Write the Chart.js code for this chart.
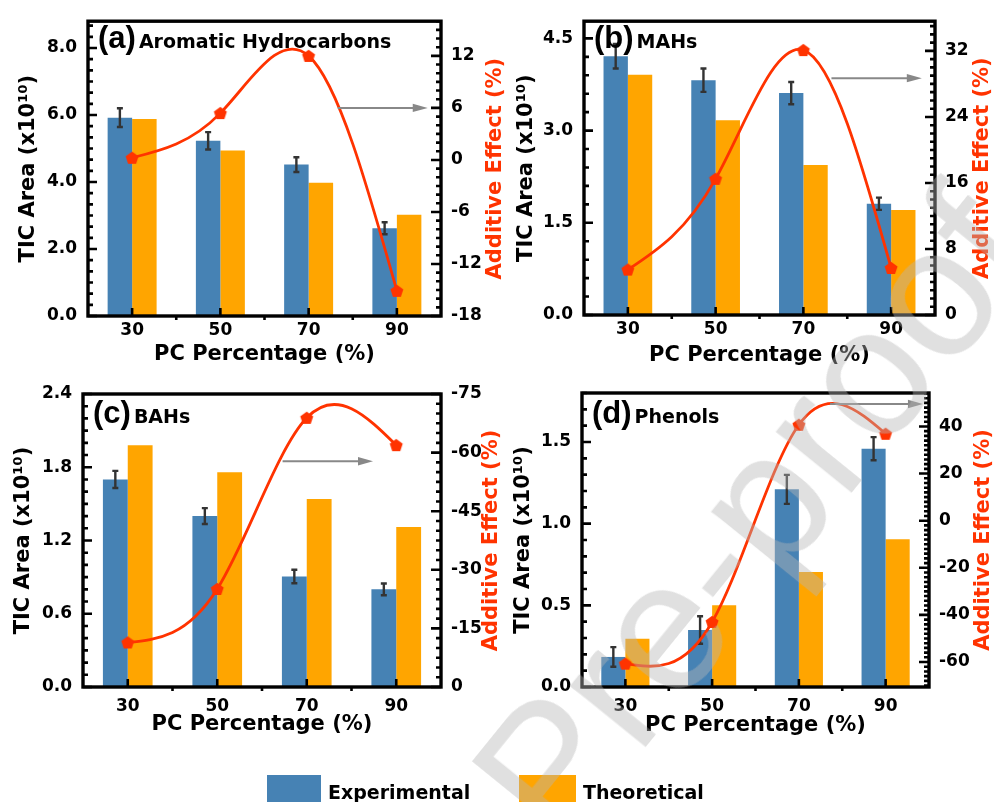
<!DOCTYPE html>
<html><head><meta charset="utf-8">
<script src="https://cdn.jsdelivr.net/npm/chart.js@4.4.1/dist/chart.umd.min.js"></script>
<style>
html,body{margin:0;padding:0;background:#fff;}
body{width:994px;height:802px;position:relative;overflow:hidden;}
.pc{position:absolute;}
.pc canvas{display:block;}
.leg{position:absolute;font:bold 19px 'DejaVu Sans';line-height:19px;color:#000;white-space:nowrap;}
.box{position:absolute;}
#wm{position:absolute;left:752px;top:514px;transform:translate(-50%,-50%) rotate(-51deg);font:184px 'Liberation Sans';line-height:1;color:rgba(180,180,180,0.42);white-space:nowrap;pointer-events:none;}
</style></head><body>
<div class="pc" style="left:0;top:0"><canvas id="ca"></canvas></div>
<div class="pc" style="left:490px;top:0"><canvas id="cb"></canvas></div>
<div class="pc" style="left:0;top:370px"><canvas id="cc"></canvas></div>
<div class="pc" style="left:490px;top:370px"><canvas id="cd"></canvas></div>
<div class="box" style="left:267px;top:775px;width:54px;height:40px;background:#4682B4"></div>
<div class="leg" style="left:328px;top:783px">Experimental</div>
<div class="box" style="left:519px;top:775px;width:57px;height:40px;background:#FFA500"></div>
<div class="leg" style="left:583px;top:783px">Theoretical</div>
<div id="wm">Pre-proof</div>
<script>
// ---------- data ----------
const categories = ['30', '50', '70', '90'];

const aExperimental = [5.92, 5.23, 4.52, 2.62];
const aTheoretical  = [5.88, 4.94, 3.98, 3.02];
const aError        = [0.28, 0.26, 0.22, 0.18];
const aAdditive     = [0.25, 5.4, 12.0, -15.1];
const aLeftTicks    = ['0.0', '2.0', '4.0', '6.0', '8.0'];
const aRightTicks   = ['-18', '-12', '-6', '0', '6', '12'];

const bExperimental = [4.21, 3.82, 3.61, 1.81];
const bTheoretical  = [3.91, 3.17, 2.44, 1.71];
const bError        = [0.20, 0.19, 0.18, 0.10];
const bAdditive     = [5.5, 16.5, 32.1, 5.7];
const bLeftTicks    = ['0.0', '1.5', '3.0', '4.5'];
const bRightTicks   = ['0', '8', '16', '24', '32'];

const cExperimental = [1.70, 1.40, 0.905, 0.80];
const cTheoretical  = [1.98, 1.76, 1.54, 1.31];
const cError        = [0.07, 0.065, 0.055, 0.048];
const cAdditive     = [-11.4, -25.1, -68.9, -61.9];
const cLeftTicks    = ['0.0', '0.6', '1.2', '1.8', '2.4'];
const cRightTicks   = ['-75', '-60', '-45', '-30', '-15', '0'];

const dExperimental = [0.184, 0.349, 1.21, 1.459];
const dTheoretical  = [0.296, 0.50, 0.704, 0.904];
const dError        = [0.06, 0.084, 0.089, 0.071];
const dAdditive     = [-60.7, -43.0, 40.7, 36.9];
const dLeftTicks    = ['0.0', '0.5', '1.0', '1.5'];
const dRightTicks   = ['-60', '-40', '-20', '0', '20', '40'];

// ---------- styles / layout ----------
const FONT = 'DejaVu Sans';
const BLUE = '#4682B4', ORANGE = '#FFA500', RED = '#FF3300', ERRC = '#333333', ARROWC = '#888888';

const panels = [
  {id:'ca', letter:'(a)', name:'Aromatic Hydrocarbons', exp:aExperimental, theo:aTheoretical, err:aError, eff:aAdditive, lt:aLeftTicks, rt:aRightTicks,
   W:510, H:380, L:88, R:441, T:15, B:316, lmin:0, lmax:8.8, lminor:2/6, rmin:-18, rmax:16, rminor:1, rrev:false,
   ltitleX:29, rtitleOff:55, tickPad:4, titleCenter:354.5, labelDy:27, arrow:{from:2.33, to:3.35, y:6}},
  {id:'cb', letter:'(b)', name:'MAHs', exp:bExperimental, theo:bTheoretical, err:bError, eff:bAdditive, lt:bLeftTicks, rt:bRightTicks,
   W:504, H:380, L:94, R:445, T:15, B:315, lmin:0, lmax:4.78, lminor:0.3, rmin:0, rmax:35.6, rminor:1, rrev:false,
   ltitleX:36.7, rtitleOff:48, tickPad:4, titleCenter:355.5, labelDy:27, arrow:{from:2.32, to:3.35, y:28.7}},
  {id:'cc', letter:'(c)', name:'BAHs', exp:cExperimental, theo:cTheoretical, err:cError, eff:cAdditive, lt:cLeftTicks, rt:cRightTicks,
   W:510, H:420, L:83, R:441, T:24, B:317, lmin:0, lmax:2.4, lminor:0.1, rmin:-75, rmax:0, rminor:2.5, rrev:true,
   ltitleX:24, rtitleOff:51, tickPad:9.5, titleCenter:354.5, labelDy:29, arrow:{from:1.73, to:2.74, y:-57.8}},
  {id:'cd', letter:'(d)', name:'Phenols', exp:dExperimental, theo:dTheoretical, err:dError, eff:dAdditive, lt:dLeftTicks, rt:dRightTicks,
   W:504, H:420, L:92, R:439, T:23, B:317, lmin:0, lmax:1.8, lminor:0.1, rmin:-70.6, rmax:54.2, rminor:2, rrev:false,
   ltitleX:34, rtitleOff:55, tickPad:9.8, titleCenter:355.8, labelDy:30, arrow:{from:2.36, to:3.43, y:49.5}}
];

function pentagon(r, color) {
  const c = document.createElement('canvas');
  const s = Math.ceil(2 * r + 2);
  c.width = c.height = s;
  const g = c.getContext('2d');
  g.fillStyle = color;
  g.beginPath();
  for (let k = 0; k < 5; k++) {
    const a = -Math.PI / 2 + k * 2 * Math.PI / 5;
    const x = s / 2 + r * Math.cos(a), y = s / 2 + 0.6 + r * Math.sin(a);
    k ? g.lineTo(x, y) : g.moveTo(x, y);
  }
  g.closePath();
  g.fill();
  return c;
}
const PENT = pentagon(6.8, RED);

// natural cubic spline through the points Chart.js placed (Origin-style spline)
function naturalSpline(meta) {
  const pts = meta.data, n = pts.length;
  if (n < 3) return;
  const xs = pts.map(q => q.x), ys = pts.map(q => q.y);
  const h = [];
  for (let i = 0; i < n - 1; i++) h.push(xs[i + 1] - xs[i]);
  const M = new Array(n).fill(0);
  const cp = [], dp = [];
  for (let i = 1; i < n - 1; i++) {
    const a = h[i - 1], b = 2 * (h[i - 1] + h[i]), c = h[i];
    const d = 6 * ((ys[i + 1] - ys[i]) / h[i] - (ys[i] - ys[i - 1]) / h[i - 1]);
    if (i === 1) { cp[i] = c / b; dp[i] = d / b; }
    else { const m = b - a * cp[i - 1]; cp[i] = c / m; dp[i] = (d - a * dp[i - 1]) / m; }
  }
  for (let i = n - 2; i >= 1; i--) M[i] = dp[i] - (i < n - 2 ? cp[i] * M[i + 1] : 0);
  const s = [];
  for (let i = 0; i < n - 1; i++) s[i] = (ys[i + 1] - ys[i]) / h[i] - h[i] * (2 * M[i] + M[i + 1]) / 6;
  s[n - 1] = (ys[n - 1] - ys[n - 2]) / h[n - 2] + h[n - 2] * (M[n - 2] + 2 * M[n - 1]) / 6;
  for (let i = 0; i < n; i++) {
    const p = pts[i];
    if (i > 0) { p.cp1x = xs[i] - h[i - 1] / 3; p.cp1y = ys[i] - s[i] * h[i - 1] / 3; }
    else { p.cp1x = xs[i]; p.cp1y = ys[i]; }
    if (i < n - 1) { p.cp2x = xs[i] + h[i] / 3; p.cp2y = ys[i] + s[i] * h[i] / 3; }
    else { p.cp2x = xs[i]; p.cp2y = ys[i]; }
  }
  meta.dataset._pointsUpdated = true;
  meta.dataset._path = undefined;
}

function makeDecor(p) {
  return {
    id: 'panelDecor',
    beforeDatasetDraw(chart, args) {
      if (args.index === 0) naturalSpline(chart.getDatasetMeta(0));
    },
    afterDatasetDraw(chart, args) {
      if (args.index !== 1) return;
      const ctx = chart.ctx, ys = chart.scales.y;
      const meta = chart.getDatasetMeta(1);
      ctx.save();
      ctx.strokeStyle = ERRC; ctx.lineWidth = 2.4; ctx.lineCap = 'butt';
      meta.data.forEach((bar, i) => {
        const v = p.exp[i], e = p.err[i];
        const y1 = ys.getPixelForValue(v + e), y2 = ys.getPixelForValue(v - e);
        const x = bar.x;
        ctx.beginPath();
        ctx.moveTo(x, y1); ctx.lineTo(x, y2);
        ctx.moveTo(x - 3, y1); ctx.lineTo(x + 3, y1);
        ctx.moveTo(x - 3, y2); ctx.lineTo(x + 3, y2);
        ctx.stroke();
      });
      ctx.restore();
    },
    afterDraw(chart) {
      const ctx = chart.ctx, a = chart.chartArea;
      const xs = chart.scales.x, yl = chart.scales.y, yr = chart.scales.y1;
      ctx.save();
      // arrow
      const ax1 = xs.getPixelForValue(p.arrow.from), ax2 = xs.getPixelForValue(p.arrow.to), ay = yr.getPixelForValue(p.arrow.y);
      ctx.strokeStyle = ARROWC; ctx.fillStyle = ARROWC; ctx.lineWidth = 2;
      ctx.beginPath(); ctx.moveTo(ax1, ay); ctx.lineTo(ax2 - 12, ay); ctx.stroke();
      ctx.beginPath(); ctx.moveTo(ax2, ay); ctx.lineTo(ax2 - 15, ay - 4.2); ctx.lineTo(ax2 - 15, ay + 4.2); ctx.closePath(); ctx.fill();
      // ticks
      ctx.strokeStyle = '#000'; ctx.lineWidth = 2.6; ctx.lineCap = 'butt';
      const majL = p.lt.map(Number), majR = p.rt.map(Number);
      const isMaj = (v, arr, st) => arr.some(m => Math.abs(m - v) < st / 10);
      ctx.beginPath();
      majL.forEach(v => { const y = yl.getPixelForValue(v); ctx.moveTo(a.left, y); ctx.lineTo(a.left + 9, y); });
      for (let k = Math.ceil(p.lmin / p.lminor - 1e-6); k * p.lminor <= p.lmax + 1e-6; k++) {
        const v = k * p.lminor; if (isMaj(v, majL, p.lminor)) continue;
        const y = yl.getPixelForValue(v); ctx.moveTo(a.left, y); ctx.lineTo(a.left + 5, y);
      }
      majR.forEach(v => { const y = yr.getPixelForValue(v); ctx.moveTo(a.right, y); ctx.lineTo(a.right - 10, y); });
      for (let k = Math.ceil(p.rmin / p.rminor - 1e-6); k * p.rminor <= p.rmax + 1e-6; k++) {
        const v = k * p.rminor; if (isMaj(v, majR, p.rminor)) continue;
        const y = yr.getPixelForValue(v); ctx.moveTo(a.right, y); ctx.lineTo(a.right - 5, y);
      }
      categories.forEach((c, i) => {
        const x = xs.getPixelForValue(i); ctx.moveTo(x, a.bottom); ctx.lineTo(x, a.bottom - 8);
        if (i < categories.length - 1) {
          const xm = xs.getPixelForValue(i + 0.5); ctx.moveTo(xm, a.bottom); ctx.lineTo(xm, a.bottom + 4);
        }
      });
      ctx.stroke();
      // frame
      ctx.lineWidth = 3.4;
      ctx.strokeRect(a.left, a.top, a.right - a.left, a.bottom - a.top);
      // right axis title
      ctx.fillStyle = RED;
      ctx.font = 'bold 21px ' + FONT;
      ctx.textAlign = 'center'; ctx.textBaseline = 'middle';
      ctx.translate(a.right + p.rtitleOff, (a.top + a.bottom) / 2);
      ctx.rotate(-Math.PI / 2);
      ctx.fillText('Additive Effect (%)', 0, 0);
      ctx.restore();
      // panel label
      ctx.save();
      ctx.fillStyle = '#000'; ctx.textAlign = 'left'; ctx.textBaseline = 'alphabetic';
      ctx.font = 'bold 31px "Liberation Sans"';
      const lx = a.left + 10, ly = a.top + p.labelDy;
      ctx.fillText(p.letter, lx, ly);
      const w = ctx.measureText(p.letter).width;
      ctx.font = 'bold 19px ' + FONT;
      ctx.fillText(p.name, lx + w + 3, ly);
      ctx.restore();
    }
  };
}

function makeChart(p) {
  const cv = document.getElementById(p.id);
  cv.width = p.W; cv.height = p.H;
  const lh = 21 * 1.2;
  const tickFont = {family: FONT, size: 17, weight: 'bold'};
  const titleFont = {family: FONT, size: 21, weight: 'bold'};
  return new Chart(cv, {
    type: 'bar',
    data: {
      labels: categories,
      datasets: [
        {type: 'line', label: 'Additive Effect', data: p.eff, yAxisID: 'y1', borderColor: RED, borderWidth: 2.8,
         pointStyle: PENT, pointRadius: 6, pointHoverRadius: 6, tension: 0.4, order: 0, fill: false},
        {label: 'Experimental', data: p.exp, backgroundColor: BLUE, yAxisID: 'y', order: 1, categoryPercentage: 0.555, barPercentage: 1},
        {label: 'Theoretical', data: p.theo, backgroundColor: ORANGE, yAxisID: 'y', order: 2, categoryPercentage: 0.555, barPercentage: 1}
      ]
    },
    options: {
      responsive: false, animation: false, events: [],
      layout: {padding: {top: p.T, left: 0, right: 0, bottom: 0}},
      plugins: {legend: {display: false}, tooltip: {enabled: false}},
      scales: {
        x: {
          position: 'bottom', offset: true,
          grid: {display: false, drawTicks: false}, border: {display: false},
          ticks: {font: tickFont, color: '#000', padding: p.tickPad, maxRotation: 0, autoSkip: false},
          title: {display: true, text: 'PC Percentage (%)', font: titleFont, color: '#000',
                  padding: {top: 0, bottom: p.H - p.titleCenter - lh / 2}},
          afterFit: s => { s.height = p.H - p.B; }
        },
        y: {
          position: 'left', min: p.lmin, max: p.lmax,
          grid: {display: false, drawTicks: false}, border: {display: false},
          afterBuildTicks: s => { s.ticks = p.lt.map(t => ({value: Number(t)})); },
          ticks: {font: tickFont, color: '#000', padding: 11, autoSkip: false, callback: (v, i) => p.lt[i]},
          title: {display: true, text: 'TIC Area (x10\u00B9\u2070)', font: titleFont, color: '#000',
                  padding: {top: p.ltitleX - lh / 2, bottom: 0}},
          afterFit: s => { s.width = p.L; }
        },
        y1: {
          position: 'right', min: p.rmin, max: p.rmax, reverse: p.rrev,
          grid: {display: false, drawTicks: false}, border: {display: false},
          afterBuildTicks: s => { s.ticks = p.rt.map(t => ({value: Number(t)})); },
          ticks: {font: tickFont, color: '#000', padding: 10, autoSkip: false, callback: (v, i) => p.rt[i]},
          afterFit: s => { s.width = p.W - p.R; }
        }
      }
    },
    plugins: [makeDecor(p)]
  });
}

panels.forEach(makeChart);
</script>
</body></html>
